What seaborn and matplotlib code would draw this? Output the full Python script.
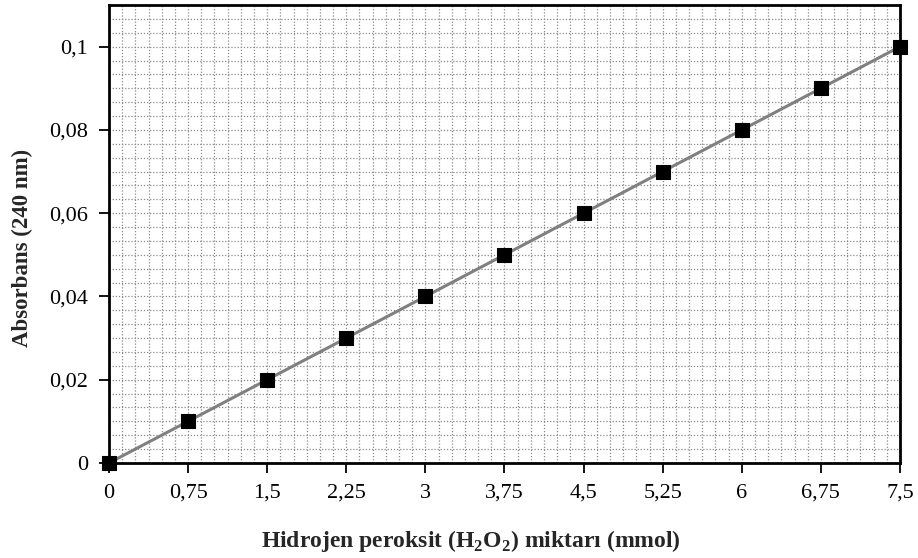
import numpy as np
import pandas as pd
import seaborn as sns
import matplotlib.pyplot as plt
from matplotlib.ticker import MultipleLocator

# data
h2o2_mmol = [0, 0.75, 1.5, 2.25, 3, 3.75, 4.5, 5.25, 6, 6.75, 7.5]
absorbance = [0, 0.01, 0.02, 0.03, 0.04, 0.05, 0.06, 0.07, 0.08, 0.09, 0.1]
x_ticks = [0, 0.75, 1.5, 2.25, 3, 3.75, 4.5, 5.25, 6, 6.75, 7.5]
x_tick_labels = ["0", "0,75", "1,5", "2,25", "3", "3,75", "4,5", "5,25", "6", "6,75", "7,5"]
y_ticks = [0, 0.02, 0.04, 0.06, 0.08, 0.1]
y_tick_labels = ["0", "0,02", "0,04", "0,06", "0,08", "0,1"]


def main():
    df = pd.DataFrame({"x": h2o2_mmol, "y": absorbance})

    sns.set_theme(style="ticks")
    plt.rcParams["font.family"] = ["Liberation Serif", "DejaVu Serif"]
    plt.rcParams["mathtext.fontset"] = "custom"
    plt.rcParams["mathtext.rm"] = "Liberation Serif"
    plt.rcParams["mathtext.bf"] = "Liberation Serif:bold"

    fig = plt.figure(figsize=(9.18, 5.58), dpi=100)
    ax = fig.add_axes([0.1187, 0.1703, 0.8617, 0.8207])

    # linear trend line through the points
    fit = np.polyfit(df["x"], df["y"], 1)
    fx = np.array([df["x"].min(), df["x"].max()])
    ax.plot(fx, np.polyval(fit, fx), color="#808080", linewidth=2.2, zorder=3)

    sns.scatterplot(data=df, x="x", y="y", ax=ax, marker="s", s=95,
                    color="black", edgecolor="black", zorder=4, clip_on=False)

    ax.set_xlim(0, 7.5)
    ax.set_ylim(0, 0.11)
    ax.set_xticks(x_ticks, x_tick_labels)
    ax.set_yticks(y_ticks, y_tick_labels)
    ax.xaxis.set_minor_locator(MultipleLocator(0.125))
    ax.yaxis.set_minor_locator(MultipleLocator(0.02 / 6))
    ax.grid(which="both", color="#8a8a8a", linestyle=(0, (1, 1.5)), linewidth=0.9)
    ax.set_axisbelow(True)
    ax.tick_params(which="minor", length=0)
    ax.tick_params(which="major", direction="out", length=7, width=1.3,
                   labelsize=16, colors="black", pad=8)

    for s in ax.spines.values():
        s.set_visible(True)
        s.set_color("black")
        s.set_linewidth(2)

    ax.set_xlabel(r"Hidrojen peroksit (H$_\mathbf{2}$O$_\mathbf{2}$) miktarı (mmol)",
                  fontsize=17, fontweight="bold")
    ax.set_ylabel("Absorbans (240 nm)", fontsize=16.5, fontweight="bold")
    ax.xaxis.set_label_coords(0.457, -0.143)
    ax.yaxis.set_label_coords(-0.096, 0.47)

    fig.savefig("out.png", dpi=100)


if __name__ == '__main__':
    main()
